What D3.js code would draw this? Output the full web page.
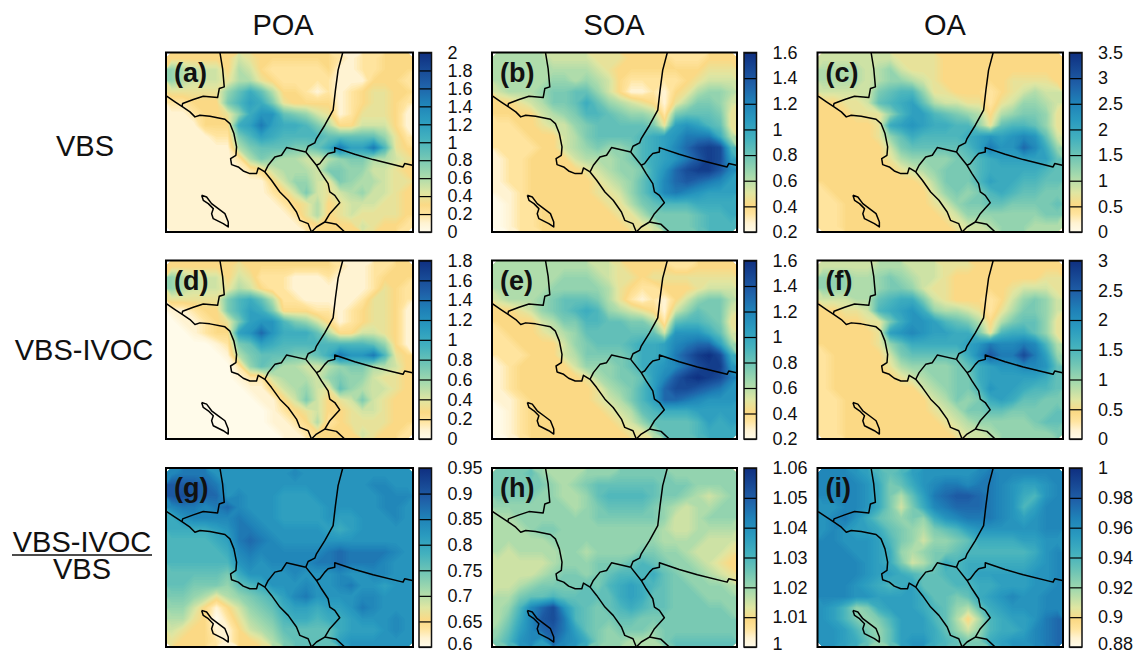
<!DOCTYPE html>
<html>
<head>
<meta charset="utf-8">
<script src="https://cdn.jsdelivr.net/npm/d3@7"></script>
<style>
body { margin: 0; background: #fff; }
text { font-family: "Liberation Sans", Arial, sans-serif; fill: #111; }
</style>
</head>
<body>
<div id="container"></div>
<script>
const poaVbs = [
[3,3,3,3,3,3,5,4,3,3,3,3,3,3,3,2,1,2,2,3,3,3],
[7,6,5,5,5,3,6,5,3,2,2,2,2,2,3,1,1,2,2,3,3,3],
[7,6,5,5,5,4,6,6,4,3,2,2,2,2,2,1,1,1,3,3,3,2],
[4,4,4,4,4,7,9,11,9,6,3,3,2,1,2,1,2,3,4,4,3,3],
[2,2,3,3,3,8,10,12,11,8,4,3,3,3,3,1,2,3,4,4,3,2],
[1,1,2,3,3,4,7,11,13,13,9,8,7,5,4,1,2,4,4,4,3,1],
[1,1,1,3,3,3,11,12,15,12,11,11,10,8,6,3,3,5,5,5,3,1],
[1,1,1,1,2,2,8,10,12,11,10,10,10,10,9,9,9,9,9,7,4,2],
[1,1,1,1,1,1,6,8,9,9,9,8,8,9,11,15,12,12,15,10,4,3],
[1,1,1,1,1,1,2,6,8,7,6,6,5,5,6,7,8,8,6,6,5,4],
[1,1,1,1,1,1,1,2,3,5,6,6,6,5,8,8,7,7,5,5,4,3],
[1,1,1,1,1,1,1,1,1,3,5,7,7,5,4,8,7,6,6,5,4,4],
[1,1,1,1,1,1,1,1,1,2,3,5,8,5,4,5,6,7,5,5,4,3],
[1,1,1,1,1,1,1,1,1,1,2,3,4,6,3,4,5,5,5,4,4,3],
[1,1,1,1,1,1,1,1,1,1,1,2,4,6,3,4,5,4,4,4,4,3],
[1,1,1,1,1,1,1,1,1,1,1,1,2,3,3,3,3,5,4,3,3,2]
];
const soaVbs = [
[6,6,6,6,6,5,5,5,5,4,4,4,3,3,3,3,2,2,2,3,3,3],
[6,6,6,6,6,6,6,6,6,5,4,3,3,3,3,3,3,3,3,4,4,4],
[6,6,6,6,6,7,7,6,7,6,5,3,2,2,2,2,2,3,4,5,5,5],
[5,6,6,6,7,8,8,9,9,7,5,3,1,1,2,1,3,4,6,7,7,6],
[3,3,4,5,6,8,8,9,11,9,7,6,5,4,3,1,4,6,8,8,7,5],
[3,3,3,3,5,6,7,8,10,10,9,8,7,7,6,2,8,9,9,9,8,4],
[2,2,3,3,4,5,5,7,8,9,9,9,9,9,8,4,12,13,12,10,9,4],
[2,2,2,3,3,3,5,6,8,9,9,9,9,10,11,12,13,15,15,15,11,6],
[2,2,2,2,3,3,5,6,7,8,7,7,8,10,11,12,14,16,18,19,18,10],
[1,2,2,3,3,3,3,5,6,6,6,7,8,10,11,12,13,15,17,19,18,12],
[1,2,2,3,3,3,3,3,4,5,6,7,7,8,11,13,16,18,19,19,17,14],
[1,2,2,3,3,3,3,3,3,4,5,6,7,9,11,14,16,17,16,15,14,12],
[1,1,2,3,3,3,3,3,3,4,4,5,7,9,11,14,15,14,13,12,12,12],
[0,1,2,2,3,3,3,3,3,3,4,4,6,8,9,10,10,10,11,11,11,11],
[0,1,2,2,3,3,3,3,3,3,3,4,4,6,8,8,8,8,9,10,10,11],
[0,1,2,2,3,3,3,3,3,3,3,3,4,4,5,8,8,8,9,10,10,10]
];
const oaVbs = [
[5,5,5,5,5,5,5,4,4,4,4,3,3,3,3,3,3,3,3,3,3,3],
[6,6,6,6,5,6,7,5,4,4,4,3,3,3,3,3,3,3,3,3,3,3],
[6,6,6,6,5,6,7,7,6,5,4,3,3,3,3,3,3,4,4,4,4,3],
[5,5,5,5,5,8,9,10,10,7,4,4,3,3,3,2,3,4,5,6,5,5],
[3,3,4,4,5,9,10,11,12,9,6,5,5,4,4,2,4,5,7,7,6,5],
[3,3,3,4,4,4,7,10,12,12,10,9,8,7,6,3,6,7,8,8,7,4],
[3,3,3,3,3,4,11,12,13,12,11,11,10,10,7,4,9,10,10,9,7,4],
[3,3,3,3,3,4,7,9,11,10,10,10,10,11,12,13,12,13,14,13,9,5],
[3,3,3,3,3,3,5,8,9,9,9,9,9,10,12,15,13,13,16,14,11,7],
[3,3,3,3,3,3,4,6,7,7,7,7,8,9,10,11,12,12,12,12,12,9],
[3,3,3,3,3,3,3,4,5,6,7,8,8,8,10,11,11,11,11,11,10,9],
[3,3,3,3,3,3,3,3,3,4,6,8,8,8,10,12,11,11,10,10,9,9],
[2,3,3,3,3,3,3,3,3,3,5,7,8,7,8,10,11,10,9,9,8,8],
[2,2,3,3,3,3,3,3,3,3,4,5,7,8,8,9,9,8,8,8,8,9],
[2,2,3,3,3,3,3,3,3,3,3,4,5,7,7,7,7,7,7,7,8,8],
[2,2,3,3,3,3,3,3,3,3,3,3,4,5,5,6,7,7,7,6,6,6]
];
const poaIvoc = [
[3,3,3,3,3,3,4,3,3,3,3,3,3,3,3,2,1,1,2,2,3,3],
[7,6,5,5,5,3,5,4,2,2,2,1,1,1,2,1,1,1,2,3,3,3],
[7,6,5,5,5,4,6,5,3,2,2,1,1,1,1,1,1,1,2,4,3,2],
[4,4,4,4,4,8,10,11,9,6,2,2,1,1,1,1,1,2,4,4,3,2],
[1,1,2,3,3,8,10,12,11,8,3,3,3,2,2,1,2,3,4,4,3,1],
[0,1,1,2,3,4,8,12,13,13,10,8,7,5,3,1,2,3,4,4,3,1],
[0,0,1,2,3,3,12,13,16,13,11,11,11,9,6,3,3,5,5,4,3,1],
[0,0,0,0,1,2,8,9,12,11,10,10,10,10,10,10,10,10,9,7,3,1],
[0,0,0,0,0,1,6,8,9,9,9,8,8,9,11,15,13,13,15,10,4,3],
[0,0,0,0,0,0,2,7,9,8,6,6,5,5,6,7,8,8,6,6,5,3],
[0,0,0,0,0,0,1,2,2,5,6,6,6,5,7,8,7,7,5,4,4,3],
[0,0,0,0,0,0,0,1,1,3,5,6,7,5,4,9,7,6,5,5,4,3],
[0,0,0,0,0,0,0,0,1,1,3,5,8,5,3,4,5,8,5,4,3,3],
[0,0,0,0,0,0,0,0,0,1,2,3,4,5,3,3,4,5,5,4,3,3],
[0,0,0,0,0,0,0,0,0,1,1,2,3,6,2,3,4,4,4,4,3,3],
[0,0,0,0,0,0,0,0,0,0,1,1,2,3,3,3,3,5,4,3,3,2]
];
const soaIvoc = [
[6,6,6,6,6,6,6,6,6,5,5,4,3,3,3,3,2,2,3,3,3,3],
[6,6,6,6,6,6,7,7,7,6,5,4,4,3,4,4,4,4,4,4,4,4],
[6,6,6,6,6,7,7,7,7,7,6,4,3,2,2,3,3,3,4,5,5,5],
[5,6,6,6,7,8,9,9,9,8,6,4,2,1,2,1,3,5,7,8,8,6],
[3,3,4,5,7,8,9,10,11,10,7,6,5,4,3,1,5,7,9,8,8,5],
[3,3,3,3,5,6,8,8,10,10,9,9,8,8,6,2,9,10,10,9,8,4],
[2,3,3,3,4,5,6,7,9,9,9,9,9,9,9,5,13,13,13,11,9,5],
[2,2,3,3,3,3,5,7,8,9,9,9,10,11,11,12,14,15,16,16,12,7],
[2,2,2,3,3,3,5,6,8,8,8,8,9,11,11,12,15,17,19,20,18,11],
[1,2,3,3,3,3,3,5,7,7,7,8,9,11,12,13,14,16,18,19,19,13],
[1,2,3,3,3,3,3,3,4,6,7,8,8,9,12,14,17,19,20,19,18,15],
[1,2,3,3,3,3,3,3,3,4,6,7,8,10,12,16,18,18,17,16,15,13],
[1,1,2,3,3,3,3,3,3,4,5,6,8,10,12,16,16,15,14,13,13,13],
[0,1,2,3,3,3,3,3,3,3,4,5,6,9,10,11,11,11,12,12,12,12],
[0,1,2,3,3,3,3,3,3,3,3,4,5,7,9,9,9,9,10,12,11,12],
[0,1,2,3,3,3,3,3,3,3,3,3,4,4,6,9,9,9,10,11,11,11]
];
const oaIvoc = [
[5,5,5,5,5,6,6,6,5,5,5,4,4,4,3,3,3,3,3,3,3,3],
[7,7,7,6,6,7,8,7,6,5,5,4,3,3,3,3,3,3,3,3,4,4],
[7,7,7,6,6,7,8,8,7,5,4,4,3,3,3,3,3,4,5,5,5,4],
[5,5,5,6,6,9,10,11,11,8,5,4,3,3,3,2,3,5,7,8,7,5],
[3,3,4,4,5,10,11,12,13,11,7,6,6,5,4,2,4,6,8,8,7,5],
[3,3,3,3,4,4,8,11,13,13,12,10,9,8,6,3,6,8,9,9,7,4],
[3,3,3,3,3,4,12,13,14,13,12,12,11,11,8,4,10,11,11,9,7,4],
[3,3,3,3,3,4,7,9,11,11,11,11,11,12,13,15,14,14,15,14,10,6],
[2,3,3,3,3,3,5,8,9,9,9,9,9,11,14,17,15,15,18,15,12,7],
[2,3,3,3,3,3,4,6,7,7,7,7,8,9,11,12,13,13,14,14,13,9],
[2,3,3,3,3,3,3,4,5,6,7,7,8,8,11,12,12,12,12,12,11,9],
[2,3,3,3,3,3,3,3,3,5,6,7,8,8,10,13,12,12,11,10,10,9],
[2,2,3,3,3,3,3,3,3,3,5,6,8,7,8,11,12,11,9,9,8,8],
[2,2,3,3,3,3,3,3,3,3,4,5,6,8,8,9,9,8,8,8,8,9],
[2,2,3,3,3,3,3,3,3,3,3,4,5,6,7,7,7,7,7,8,9,9],
[2,2,3,3,3,3,3,3,3,3,3,3,4,5,5,6,7,7,7,7,7,8]
];
const poaRatio = [
[14,15,15,15,13,13,13,13,13,13,13,14,13,13,13,13,13,13,13,13,13,13],
[17,17,17,16,15,13,13,13,13,13,13,13,13,13,13,13,13,13,14,14,13,13],
[17,18,17,16,16,13,14,13,13,13,12,12,12,13,13,13,13,13,13,14,14,14],
[14,15,15,14,15,16,14,13,13,13,12,12,12,12,13,13,13,13,13,14,14,13],
[11,13,14,14,14,14,15,14,13,13,12,12,12,12,13,12,12,13,13,13,14,13],
[11,11,11,11,12,13,15,15,14,13,13,13,13,13,12,11,12,13,13,13,13,13],
[10,10,10,10,11,12,15,16,15,14,13,13,13,13,13,13,13,13,13,13,13,13],
[10,10,10,10,10,11,14,15,14,14,14,14,14,14,15,16,15,15,15,15,14,13],
[10,10,10,10,10,10,13,14,13,14,14,14,14,15,15,16,15,15,15,14,13,13],
[9,9,9,9,9,8,11,13,13,13,13,14,13,13,13,14,13,13,14,14,13,13],
[9,9,8,8,8,7,9,10,11,13,13,13,14,13,13,14,15,13,13,12,13,13],
[8,8,7,6,4,6,7,8,9,10,12,14,15,13,13,13,13,14,14,13,13,13],
[7,7,5,3,1,3,5,7,8,9,11,12,12,11,12,12,13,15,14,13,13,13],
[6,6,4,3,0,2,4,6,7,8,10,11,11,10,11,11,12,13,13,13,14,13],
[5,4,3,3,1,1,3,5,6,7,9,9,9,9,9,11,12,12,12,13,14,13],
[4,3,3,3,2,1,3,3,4,6,8,9,9,9,9,12,13,13,13,13,13,13]
];
const soaRatio = [
[8,8,8,9,7,6,6,6,7,7,7,8,8,8,8,8,7,7,7,7,7,7],
[8,8,8,8,8,7,6,7,8,9,9,9,9,9,9,8,8,8,7,7,7,7],
[8,8,8,8,7,7,6,6,7,9,10,10,10,10,9,8,8,7,6,5,6,7],
[7,7,7,7,7,7,7,6,7,8,9,9,9,9,8,7,6,5,6,6,7,7],
[6,6,7,7,7,7,7,7,7,8,8,8,8,8,8,7,5,5,6,7,7,7],
[6,6,6,7,8,8,7,7,7,7,7,7,7,7,7,6,5,5,6,6,6,6],
[6,6,6,6,6,7,7,7,7,7,7,7,7,7,7,6,6,6,6,5,5,5],
[6,5,6,6,6,6,7,7,6,7,7,7,7,8,8,7,7,6,5,5,5,4],
[5,5,5,5,5,6,7,7,7,8,8,8,9,10,9,8,7,7,6,5,4,3],
[5,5,5,5,6,7,8,8,7,8,9,10,10,10,11,9,8,7,7,6,5,4],
[5,5,6,7,8,8,8,8,9,8,10,11,12,11,10,9,8,8,7,7,7,6],
[6,6,8,9,9,10,9,9,9,9,9,11,12,11,9,9,8,8,8,7,7,7],
[6,7,10,14,16,18,13,10,9,8,9,10,11,10,9,9,8,8,8,8,8,7],
[6,8,11,14,17,18,15,10,9,8,8,9,9,8,8,8,8,8,8,8,8,8],
[7,9,12,14,16,17,15,12,9,8,7,8,8,8,7,8,8,8,8,8,8,8],
[8,10,13,14,12,16,14,13,11,8,7,7,6,6,6,8,9,9,9,9,9,9]
];
const oaRatio = [
[14,14,14,13,12,10,9,10,12,13,13,13,13,13,14,15,14,14,14,14,14,14],
[14,14,14,14,13,11,8,9,11,13,14,15,15,14,15,15,14,13,12,12,13,14],
[14,14,14,14,13,11,8,6,9,12,15,16,17,17,16,15,14,13,11,10,13,14],
[13,13,14,14,13,11,8,5,8,11,14,15,16,16,16,15,14,13,10,12,14,14],
[13,14,15,13,11,9,8,7,8,7,11,13,14,15,15,15,14,13,12,13,14,14],
[13,14,13,12,12,11,9,8,7,6,8,9,10,12,13,13,13,13,13,13,14,14],
[14,14,13,13,13,12,10,8,7,5,7,7,8,9,11,11,11,11,12,12,13,13],
[14,14,14,13,13,12,11,7,6,7,8,8,9,10,10,10,10,10,10,11,13,14],
[14,14,14,14,13,12,11,8,5,6,8,11,10,11,11,11,11,11,11,12,13,14],
[14,14,14,14,13,12,12,11,10,9,9,10,10,11,12,12,12,12,12,13,13,14],
[14,14,14,13,12,11,10,11,12,9,9,9,10,10,11,11,12,12,12,13,13,14],
[14,14,14,13,13,12,12,12,12,11,9,9,8,9,11,12,13,14,13,13,14,14],
[13,12,10,7,8,11,12,12,12,11,10,9,7,6,9,11,12,13,13,13,14,14],
[13,12,10,8,7,8,10,12,12,12,10,9,6,3,6,10,11,12,12,13,15,16],
[13,13,12,10,8,7,9,12,12,12,11,9,7,5,7,10,11,11,12,14,15,16],
[13,13,12,11,9,7,9,12,13,13,11,10,9,8,8,11,12,13,13,14,15,16]
];

const poaVbsTicks = [0,0.2,0.4,0.6,0.8,1,1.2,1.4,1.6,1.8,2];
const soaVbsTicks = [0.2,0.4,0.6,0.8,1,1.2,1.4,1.6];
const oaVbsTicks = [0,0.5,1,1.5,2,2.5,3,3.5];
const poaIvocTicks = [0,0.2,0.4,0.6,0.8,1,1.2,1.4,1.6,1.8];
const soaIvocTicks = [0.2,0.4,0.6,0.8,1,1.2,1.4,1.6];
const oaIvocTicks = [0,0.5,1,1.5,2,2.5,3];
const poaRatioTicks = [0.6,0.65,0.7,0.75,0.8,0.85,0.9,0.95];
const soaRatioTicks = [1,1.01,1.02,1.03,1.04,1.05,1.06];
const oaRatioTicks = [0.88,0.9,0.92,0.94,0.96,0.98,1];

const columnTitles = ['POA','SOA','OA'];
const panelLetters = ['(a)','(b)','(c)','(d)','(e)','(f)','(g)','(h)','(i)'];
const grids = [poaVbs,soaVbs,oaVbs,poaIvoc,soaIvoc,oaIvoc,poaRatio,soaRatio,oaRatio];
const tickLists = [poaVbsTicks,soaVbsTicks,oaVbsTicks,poaIvocTicks,soaIvocTicks,oaIvocTicks,poaRatioTicks,soaRatioTicks,oaRatioTicks];

// map outlines, in x/y units of the map frame (x 18-760, y 37-575)
const coast = [[20,168],[45,185],[68,200],[90,215],[105,230],[120,225],[150,228],[195,237],[210,250],[222,280],[230,320],[228,345],[212,355],[215,373],[235,380],[250,392],[270,400],[290,400],[295,383],[315,395],[335,420],[360,455],[385,480],[410,515],[420,540],[445,550],[455,575]];
const ventura = [[180,37],[188,85],[193,140],[178,145],[173,172],[130,168],[100,178],[68,190],[66,198]];
const sanBern = [[549,37],[535,90],[527,150],[520,210],[495,255],[470,295],[465,308],[445,318],[438,335]];
const orangeNorth = [[438,335],[380,322],[365,345],[345,350],[325,375],[315,395]];
const orangeEast = [[438,335],[470,375],[485,400],[505,430],[510,455],[525,465],[540,487],[510,520],[495,545],[470,560],[455,575]];
const riverside = [[470,375],[480,370],[495,350],[505,340],[525,335],[525,322],[585,342],[640,358],[730,380],[735,370],[758,375]];
const sanDiego = [[495,545],[530,552],[555,575]];
const catalina = [[125,465],[140,470],[155,490],[175,505],[195,520],[205,545],[205,560],[190,550],[160,535],[155,520],[160,505],[145,490],[130,480],[125,465]];
const outlines = [coast,ventura,sanBern,orangeNorth,orangeEast,riverside,sanDiego,catalina];

const colorStops = [0,0.05,0.1,0.15,0.22,0.32,0.42,0.52,0.62,0.72,0.82,1];
const colorValues = ['#fffbea','#fff3d2','#ffe49e','#fbd985','#dfe6a2','#a3d9ad','#6fc5b5','#43b1be','#2a9bbf','#1f82b8','#1f60a8','#0f2f80'];

const width = 1140, height = 654;
const colLeft = [166,492,817.5], colRight = [413,737,1063];
const barLeft = [419,744,1069.5], barWidth = 12.5;
const rowTop = [52.5,260.5,468], rowBottom = [232,439,647];

var color = d3.scaleLinear().domain(colorStops).range(colorValues);

var svg = d3.select('#container').append('svg')
	.attr('width', width)
	.attr('height', height)
	.style('display', 'block');

var grad = svg.append('defs').append('linearGradient')
	.attr('id', 'barGrad')
	.attr('x1', 0).attr('x2', 0).attr('y1', 1).attr('y2', 0);
colorStops.forEach((s, i) => {
	grad.append('stop').attr('offset', s).attr('stop-color', colorValues[i]);
});

var nRows = grids[0].length, nCols = grids[0][0].length;
var thresholds = d3.range(0, 20.01, 0.25);
var contours = d3.contours().size([nCols, nRows]).smooth(true).thresholds(thresholds);

grids.forEach((grid, k) => {
	var col = k % 3, row = Math.floor(k / 3);
	var x0 = colLeft[col], x1 = colRight[col], y0 = rowTop[row], y1 = rowBottom[row];

	var xGrid = d3.scaleLinear().domain([0, nCols]).range([x0, x1]);
	var yGrid = d3.scaleLinear().domain([0, nRows]).range([y0, y1]);
	var xMap = d3.scaleLinear().domain([18, 760]).range([x0, x1]);
	var yMap = d3.scaleLinear().domain([37, 575]).range([y0, y1]);

	var path = d3.geoPath(d3.geoTransform({
		point: function(x, y) { this.stream.point(xGrid(x), yGrid(y)); }
	}));
	var line = d3.line().x(d => xMap(d[0])).y(d => yMap(d[1]));

	var g = svg.append('g');
	g.selectAll('path.band')
		.data(contours(grid.flat()))
		.enter().append('path')
		.attr('class', 'band')
		.attr('d', path)
		.attr('fill', d => color(d.value / 20));

	g.selectAll('path.outline')
		.data(outlines)
		.enter().append('path')
		.attr('class', 'outline')
		.attr('d', line)
		.attr('fill', 'none')
		.attr('stroke', '#000')
		.attr('stroke-width', 1.5)
		.attr('stroke-linejoin', 'round');

	g.append('rect')
		.attr('x', x0).attr('y', y0)
		.attr('width', x1 - x0).attr('height', y1 - y0)
		.attr('fill', 'none')
		.attr('stroke', '#000')
		.attr('stroke-width', 2);

	g.append('text')
		.attr('x', x0 + 8).attr('y', y0 + 29)
		.attr('font-size', 27).attr('font-weight', 'bold')
		.text(panelLetters[k]);

	// colorbar
	var ticks = tickLists[k];
	var yBar = d3.scaleLinear().domain(d3.extent(ticks)).range([y1, y0]);
	var bx = barLeft[col];
	g.append('rect')
		.attr('x', bx).attr('y', y0)
		.attr('width', barWidth).attr('height', y1 - y0)
		.attr('fill', 'url(#barGrad)');

	var axis = d3.axisRight(yBar)
		.tickValues(ticks)
		.tickFormat(String)
		.tickSizeInner(-barWidth)
		.tickSizeOuter(0)
		.tickPadding(16);
	var ax = g.append('g')
		.attr('transform', `translate(${bx + barWidth},0)`)
		.call(axis);
	ax.select('.domain').remove();
	ax.selectAll('.tick line').attr('stroke', '#000').attr('stroke-width', 1.2);
	ax.selectAll('.tick text')
		.attr('font-size', 18)
		.attr('font-family', '"Liberation Sans", Arial, sans-serif')
		.attr('fill', '#111');
	// lowest label of the bottom row sits on the page edge, nudge it up
	if (row === 2) ax.selectAll('.tick text').filter(d => d === ticks[0]).attr('y', -3);

	g.append('rect')
		.attr('x', bx).attr('y', y0)
		.attr('width', barWidth).attr('height', y1 - y0)
		.attr('fill', 'none')
		.attr('stroke', '#111')
		.attr('stroke-width', 1.5);
});

// column titles and row labels
svg.selectAll('text.col')
	.data(columnTitles)
	.enter().append('text')
	.attr('class', 'col')
	.attr('x', (d, i) => [283,614,945][i])
	.attr('y', 35)
	.attr('text-anchor', 'middle')
	.attr('font-size', 29)
	.text(d => d);

function rowLabel(txt, x, y) {
	svg.append('text')
		.attr('x', x).attr('y', y)
		.attr('text-anchor', 'middle')
		.attr('font-size', 29)
		.text(txt);
}
rowLabel('VBS', 85, 156);
rowLabel('VBS-IVOC', 84, 360);
rowLabel('VBS-IVOC', 82, 552);
rowLabel('VBS', 82, 579);
svg.append('line')
	.attr('x1', 12).attr('x2', 152)
	.attr('y1', 555).attr('y2', 555)
	.attr('stroke', '#111')
	.attr('stroke-width', 1.5);
</script>
</body>
</html>
